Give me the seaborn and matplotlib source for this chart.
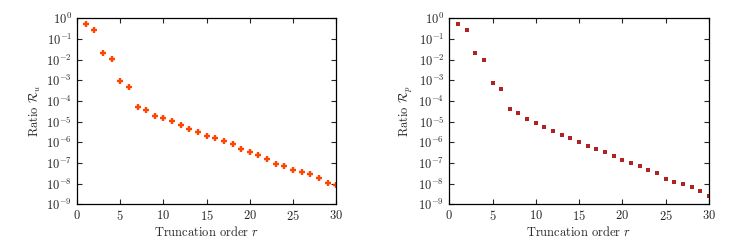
import numpy as np
import matplotlib
matplotlib.use("Agg")
import matplotlib.pyplot as plt
import seaborn as sns
import pandas as pd

# truncation order
r = list(range(1, 31))

# ratio R_u (left panel)
ratio_u = [0.55, 0.26, 0.021, 0.0105, 9.3e-4, 4.8e-4, 5.3e-5, 3.5e-5, 1.95e-5, 1.45e-5,
           1.05e-5, 7.1e-6, 4.3e-6, 3.2e-6, 2.1e-6, 1.55e-6, 1.15e-6, 7.9e-7, 4.9e-7, 3.5e-7,
           2.4e-7, 1.5e-7, 9.3e-8, 7.1e-8, 4.4e-8, 3.5e-8, 2.8e-8, 1.9e-8, 1.1e-8, 8.7e-9]

# ratio R_p (right panel)
ratio_p = [0.55, 0.26, 0.021, 9.6e-3, 7.4e-4, 4.0e-4, 4.1e-5, 2.7e-5, 1.35e-5, 8.3e-6,
           5.5e-6, 3.7e-6, 2.2e-6, 1.6e-6, 1.0e-6, 6.9e-7, 4.6e-7, 3.3e-7, 2.2e-7, 1.35e-7,
           9.6e-8, 6.9e-8, 4.8e-8, 3.3e-8, 1.75e-8, 1.16e-8, 9.3e-9, 6.6e-9, 4.6e-9, 2.6e-9]

df = pd.DataFrame({"r": r, "u": ratio_u, "p": ratio_p})

sns.set_style("ticks")
plt.rcParams["font.family"] = "serif"
plt.rcParams["font.serif"] = ["cmr10", "DejaVu Serif"]
plt.rcParams["mathtext.fontset"] = "cm"
plt.rcParams["axes.formatter.use_mathtext"] = True
plt.rcParams["axes.unicode_minus"] = False

fig = plt.figure(figsize=(7.34, 2.41), dpi=100)
ax1 = fig.add_axes([0.105, 0.152, 0.353, 0.772])
ax2 = fig.add_axes([0.612, 0.152, 0.354, 0.772])

# -------------------------
# LEFT: R_u
# -------------------------
sns.scatterplot(data=df, x="r", y="u", ax=ax1, marker="+", s=20,
                linewidth=1.7, color="#ff4500")
ax1.set_ylabel(r"Ratio $\mathcal{R}_u$", fontsize=9, labelpad=2)

# -------------------------
# RIGHT: R_p
# -------------------------
sns.scatterplot(data=df, x="r", y="p", ax=ax2, marker="s", s=12,
                linewidth=0, color="#b22222")
ax2.set_ylabel(r"Ratio $\mathcal{R}_p$", fontsize=9, labelpad=2)

for ax in (ax1, ax2):
    ax.set_yscale("log")
    ax.set_ylim(1e-9, 1)
    ax.set_xlim(0, 30)
    ax.set_xticks([0, 5, 10, 15, 20, 25, 30])
    ax.set_yticks([10.0 ** k for k in range(-9, 1)])
    ax.yaxis.set_minor_locator(matplotlib.ticker.LogLocator(base=10, subs=np.arange(2, 10)))
    ax.yaxis.set_minor_formatter(matplotlib.ticker.NullFormatter())
    ax.set_xlabel(r"Truncation order $r$", fontsize=9, labelpad=1)
    ax.tick_params(which="both", direction="in", top=True, right=True, labelsize=9)
    ax.tick_params(which="major", length=3.5, width=0.8)
    ax.tick_params(which="minor", length=1.8, width=0.6)
    for s in ax.spines.values():
        s.set_linewidth(0.9)
        s.set_color("black")

fig.savefig("out.png", dpi=100)
